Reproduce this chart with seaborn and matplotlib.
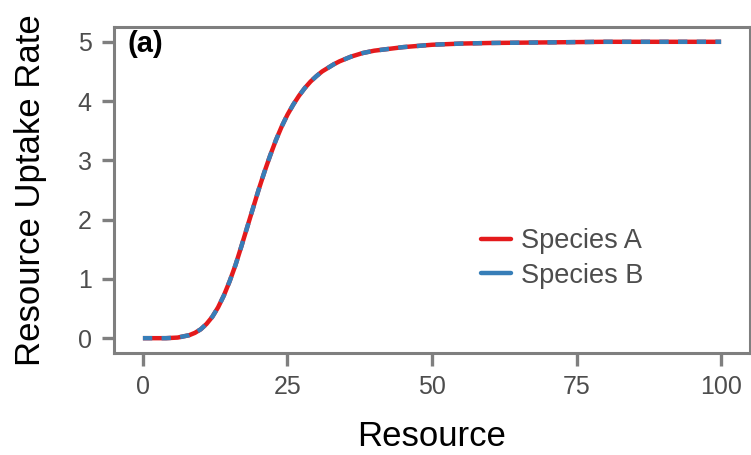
import pandas as pd
import matplotlib
matplotlib.use("Agg")
import matplotlib.pyplot as plt
import seaborn as sns

# ---------------- data ----------------
resource = [0, 2, 4, 6, 8, 9, 10, 11, 12, 13, 14, 15, 16, 17, 18, 19, 20,
            21, 22, 23, 24, 25, 26, 27, 28, 29, 30, 31, 32, 33, 34, 35, 36,
            38, 40, 45, 50, 55, 60, 70, 80, 90, 100]
uptake_a = [0.00, 0.00, 0.00, 0.01, 0.05, 0.09, 0.15, 0.24, 0.36, 0.52, 0.72,
            0.96, 1.23, 1.54, 1.86, 2.18, 2.50, 2.80, 3.08, 3.34, 3.57, 3.77,
            3.94, 4.09, 4.22, 4.33, 4.42, 4.50, 4.56, 4.62, 4.67, 4.71, 4.75,
            4.81, 4.85, 4.91, 4.95, 4.97, 4.98, 4.99, 5.00, 5.00, 5.00]
uptake_b = list(uptake_a)  # species B curve sits exactly on top of A
species = ["Species A", "Species B"]
colors = ["#E41A1C", "#377EB8"]

x_ticks = [0, 25, 50, 75, 100]
y_ticks = [0, 1, 2, 3, 4, 5]

df = pd.DataFrame({
    "Resource": resource * 2,
    "Uptake": uptake_a + uptake_b,
    "species": [species[0]] * len(resource) + [species[1]] * len(resource),
})

sns.set_theme(style="white")
plt.rcParams["font.family"] = ["Liberation Sans", "DejaVu Sans"]

fig = plt.figure(figsize=(7.51, 4.55), dpi=100)
ax = fig.add_axes([0.1518, 0.2242, 0.8469, 0.7165])

sns.lineplot(data=df, x="Resource", y="Uptake", hue="species",
             palette=dict(zip(species, colors)), linewidth=3.2, ax=ax)
# species B drawn dashed on top of A
ax.lines[1].set_dashes((2.1, 2.1))
ax.lines[0].set_solid_capstyle("butt")
ax.lines[1].set_dash_capstyle("butt")

ax.set_xlim(-5, 105)
ax.set_ylim(-0.25, 5.25)
ax.set_xticks(x_ticks)
ax.set_yticks(y_ticks)

grey = "#7F7F7F"
for sp in ax.spines.values():
    sp.set_color(grey)
    sp.set_linewidth(2.2)
ax.tick_params(axis="both", which="major", direction="out", length=9,
               width=2.4, color=grey, labelcolor="#4D4D4D", labelsize=18, pad=7,
               bottom=True, left=True)

ax.set_xlabel("Resource", fontsize=25, color="black")
ax.set_ylabel("Resource Uptake Rate", fontsize=25, color="black")
ax.xaxis.set_label_coords(0.5, -0.205)
ax.yaxis.set_label_coords(-0.105, 0.5)

ax.text(0.022, 0.948, "(a)", transform=ax.transAxes, fontsize=21,
        fontweight="bold", color="black", ha="left", va="center")

leg = ax.legend(loc="center left", bbox_to_anchor=(0.577, 0.29), frameon=False,
                fontsize=19.5, handlelength=1.1, handletextpad=0.37,
                labelspacing=0.3, borderpad=0, borderaxespad=0)
for t in leg.get_texts():
    t.set_color("#4D4D4D")
for h in leg.get_lines():
    h.set_linewidth(3.2)

fig.savefig("out.png", dpi=100)
